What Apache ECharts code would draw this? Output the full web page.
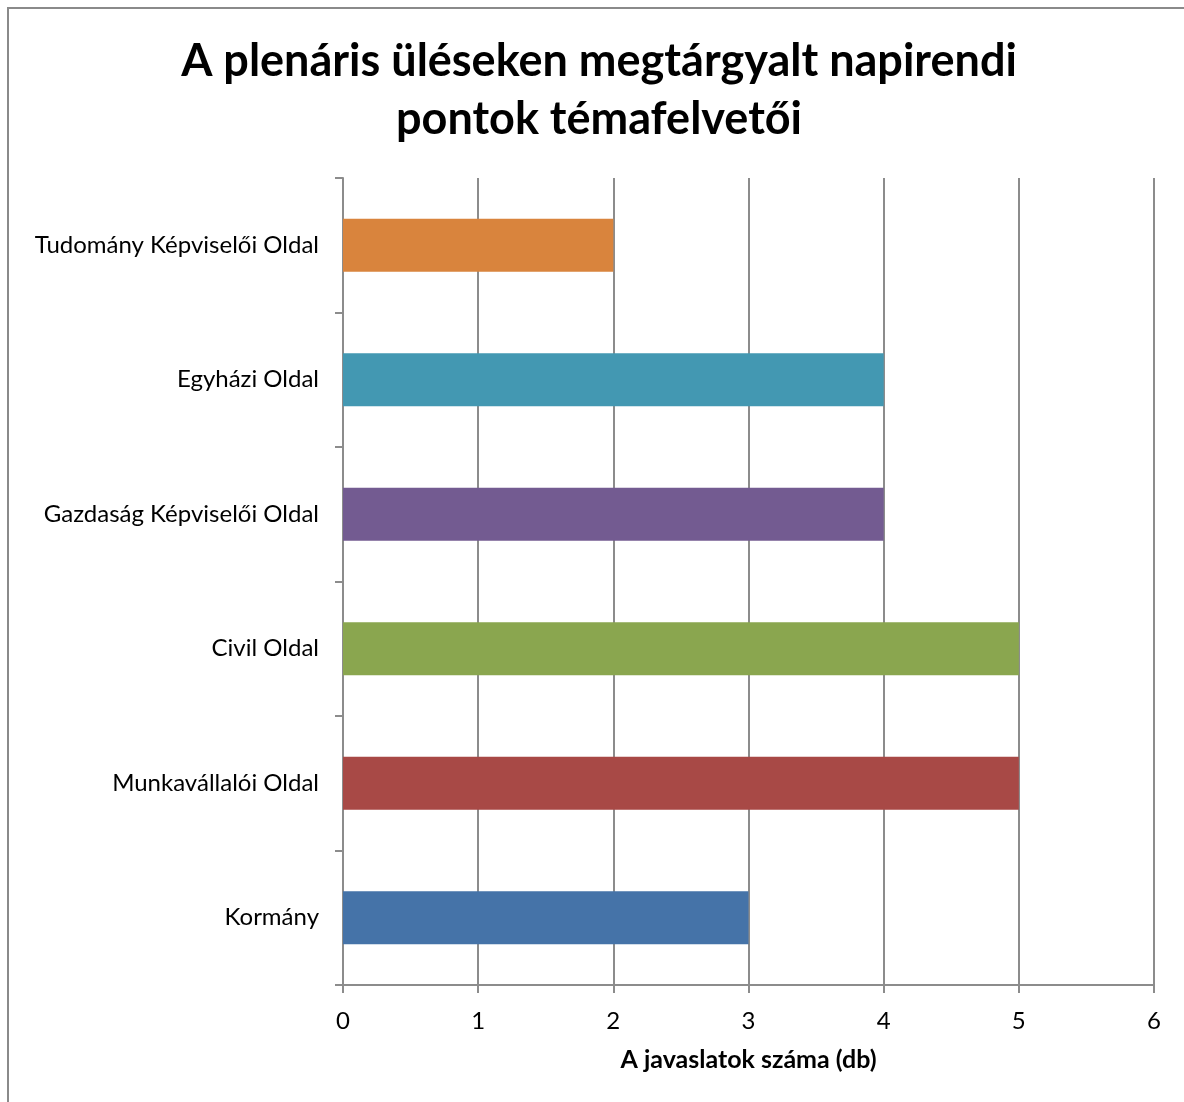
<!DOCTYPE html>
<html><head><meta charset="utf-8">
<script src="https://cdn.jsdelivr.net/npm/echarts@6/dist/echarts.min.js"></script>
<style>html,body{margin:0;padding:0;background:#fff}#c{width:1184px;height:1102px}</style>
</head><body><div id="c"></div>
<script>
const categories = ['Kormány','Munkavállalói Oldal','Civil Oldal','Gazdaság Képviselői Oldal','Egyházi Oldal','Tudomány Képviselői Oldal'];
const values = [3,5,5,4,4,2];
const colors = ['#4573A8','#A84946','#8AA64F','#735B91','#4398B2','#D9843D'];
const xTicks = [0,1,2,3,4,5,6];
const titleText = 'A plenáris üléseken megtárgyalt napirendi\npontok témafelvetői';
const axisName = 'A javaslatok száma (db)';
const FONT = 'Lato';
const chart = echarts.init(document.getElementById('c'));
chart.setOption({
  animation:false,
  graphic:[
    {type:'rect',shape:{x:8,y:8,width:1300,height:1300},style:{fill:'none',stroke:'#8a8a8a',lineWidth:2}},
    {type:'text',x:599,y:32,style:{text:titleText,align:'center',verticalAlign:'top',fill:'#000',
      font:'bold 45px Lato',lineHeight:58}}
  ],
  grid:{left:343,right:30,top:178,bottom:117},
  xAxis:{type:'value',min:0,max:6,interval:1,
    name:axisName,nameLocation:'middle',nameGap:62,
    nameTextStyle:{fontFamily:FONT,fontWeight:'bold',fontSize:25,color:'#000'},
    axisLine:{show:true,lineStyle:{color:'#8c8c8c',width:2}},
    axisTick:{show:true,length:8,lineStyle:{color:'#8c8c8c',width:2}},
    splitLine:{show:true,lineStyle:{color:'#8c8c8c',width:2}},
    axisLabel:{fontFamily:FONT,fontSize:24,color:'#000',margin:24,formatter:v=>xTicks.includes(v)?String(v):''}},
  yAxis:{type:'category',data:categories,
    axisLine:{show:true,lineStyle:{color:'#8c8c8c',width:2}},
    axisTick:{show:true,length:8,alignWithLabel:false,lineStyle:{color:'#8c8c8c',width:2}},
    axisLabel:{fontFamily:FONT,fontSize:24,color:'#000',margin:24}},
  series:[{type:'bar',barWidth:53,
    data:values.map((v,i)=>({value:v,itemStyle:{color:colors[i]}}))}]
});
</script></body></html>
